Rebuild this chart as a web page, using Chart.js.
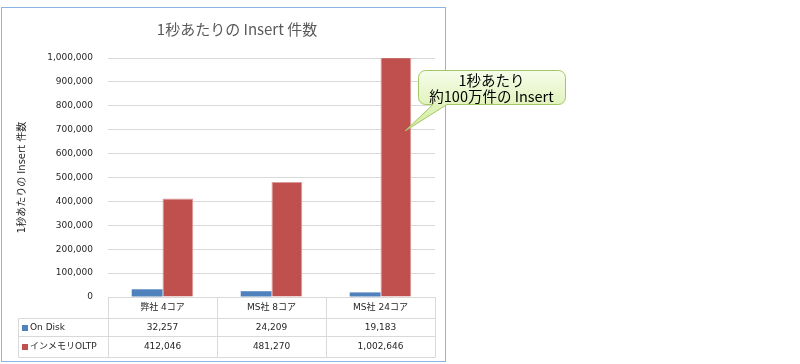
<!DOCTYPE html>
<html lang="ja">
<head>
  <meta charset="UTF-8">
  <title>1秒あたりの Insert 件数</title>
  <script src="https://cdn.jsdelivr.net/npm/chart.js"></script>
  <style>
    html, body { margin: 0; padding: 0; background: #fff; overflow: hidden; }
    #wrap { width: 800px; height: 364px; }
  </style>
</head>
<body>
  <div id="wrap"><canvas id="c" width="800" height="364"></canvas></div>

  <script>
    // data
    const categories = ['弊社 4コア', 'MS社 8コア', 'MS社 24コア'];
    const seriesNames = ['On Disk', 'インメモリOLTP'];
    const onDisk = [32257, 24209, 19183];
    const inMemory = [412046, 481270, 1002646];
    const yTicks = [0, 100000, 200000, 300000, 400000, 500000, 600000, 700000, 800000, 900000, 1000000];
    const chartTitle = '1秒あたりの Insert 件数';
    const axisTitle = '1秒あたりの Insert 件数';
    const calloutLines = ['1秒あたり', '約100万件の Insert'];

    const fmt = v => v.toLocaleString('en-US');
    const smallFont = '"DejaVu Sans", "Noto Sans CJK JP", sans-serif';
    const jpFont = '"Noto Sans CJK JP", sans-serif';

    // frame + chart title
    const framePlugin = {
      id: 'frame',
      beforeDraw(chart) {
        const ctx = chart.ctx;
        ctx.save();
        ctx.fillStyle = '#fff';
        ctx.fillRect(0, 0, chart.width, chart.height);
        ctx.restore();
      },
      afterDraw(chart) {
        const ctx = chart.ctx;
        ctx.save();
        ctx.strokeStyle = '#8db3e2';
        ctx.lineWidth = 1;
        ctx.strokeRect(1.5, 7.5, 444, 354);
        ctx.fillStyle = '#595959';
        ctx.font = '15px ' + jpFont;
        ctx.textAlign = 'center';
        ctx.textBaseline = 'middle';
        ctx.fillText(chartTitle, 237, 29);
        ctx.restore();
      }
    };

    // data table under the plot
    const tablePlugin = {
      id: 'dataTable',
      afterDraw(chart) {
        const { ctx, chartArea } = chart;
        const x = chart.scales.x;
        const colW = x.getPixelForValue(1) - x.getPixelForValue(0);
        const left = Math.round(chartArea.left) + 0.5;
        const right = Math.round(chartArea.right) + 0.5;
        const top = Math.round(chartArea.bottom) + 0.5;
        const rows = [top, top + 21, top + 39, top + 60];
        const keyLeft = 18.5;

        ctx.save();
        ctx.strokeStyle = '#d9d9d9';
        ctx.lineWidth = 1;
        ctx.beginPath();
        ctx.moveTo(left, rows[0]); ctx.lineTo(right, rows[0]);
        for (let r = 1; r < rows.length; r++) {
          ctx.moveTo(keyLeft, rows[r]); ctx.lineTo(right, rows[r]);
        }
        ctx.moveTo(keyLeft, rows[1]); ctx.lineTo(keyLeft, rows[3]);
        ctx.moveTo(left, rows[0]); ctx.lineTo(left, rows[3]);
        for (let i = 0; i < categories.length; i++) {
          const cx = Math.round(x.getPixelForValue(i) + colW / 2) + 0.5;
          ctx.moveTo(cx, rows[0]); ctx.lineTo(cx, rows[3]);
        }
        ctx.stroke();

        ctx.fillStyle = '#262626';
        ctx.font = '9px ' + smallFont;
        ctx.textBaseline = 'middle';
        ctx.textAlign = 'center';
        categories.forEach((c, i) => {
          ctx.fillText(c, x.getPixelForValue(i), (rows[0] + rows[1]) / 2);
        });
        chart.data.datasets.forEach((ds, r) => {
          const cy = (rows[r + 1] + rows[r + 2]) / 2;
          ds.data.forEach((v, i) => {
            ctx.textAlign = 'center';
            ctx.fillStyle = '#262626';
            ctx.fillText(fmt(v), x.getPixelForValue(i), cy);
          });
          ctx.fillStyle = ds.backgroundColor;
          ctx.fillRect(22, Math.round(cy) - 3, 6, 6);
          ctx.fillStyle = '#262626';
          ctx.textAlign = 'left';
          ctx.fillText(ds.label, 30, cy);
        });
        ctx.restore();
      }
    };

    // speech bubble pointing at the third red bar
    const calloutPlugin = {
      id: 'callout',
      afterDraw(chart) {
        const ctx = chart.ctx;
        const l = 418.5, t = 70.5, r = 565.5, b = 104.5, rad = 7;
        ctx.save();
        ctx.beginPath();
        ctx.moveTo(l + rad, t);
        ctx.lineTo(r - rad, t);
        ctx.arcTo(r, t, r, t + rad, rad);
        ctx.lineTo(r, b - rad);
        ctx.arcTo(r, b, r - rad, b, rad);
        ctx.lineTo(447, b);
        ctx.lineTo(405, 131);
        ctx.lineTo(433, b);
        ctx.lineTo(l + rad, b);
        ctx.arcTo(l, b, l, b - rad, rad);
        ctx.lineTo(l, t + rad);
        ctx.arcTo(l, t, l + rad, t, rad);
        ctx.closePath();
        const g = ctx.createLinearGradient(0, t, 0, 131);
        g.addColorStop(0, '#f6fdea');
        g.addColorStop(1, '#d2eb9b');
        ctx.fillStyle = g;
        ctx.fill();
        ctx.strokeStyle = '#a3c766';
        ctx.lineWidth = 1;
        ctx.stroke();

        ctx.fillStyle = '#000';
        ctx.font = '14.5px ' + jpFont;
        ctx.textAlign = 'center';
        ctx.textBaseline = 'middle';
        ctx.fillText(calloutLines[0], 491.5, 80);
        ctx.fillText(calloutLines[1], 491.5, 96);
        ctx.restore();
      }
    };

    new Chart(document.getElementById('c'), {
      type: 'bar',
      data: {
        labels: categories,
        datasets: [
          {
            label: seriesNames[0],
            data: onDisk,
            backgroundColor: '#4f81bd',
            barPercentage: 1,
            categoryPercentage: 0.565,
            clip: 0
          },
          {
            label: seriesNames[1],
            data: inMemory,
            backgroundColor: '#c0504d',
            borderColor: '#dc9c9a',
            borderWidth: 1,
            barPercentage: 1,
            categoryPercentage: 0.565,
            clip: 0
          }
        ]
      },
      options: {
        responsive: false,
        animation: false,
        layout: { padding: { left: 0, right: 365, top: 58, bottom: 67 } },
        plugins: {
          legend: { display: false },
          tooltip: { enabled: false },
          title: { display: false }
        },
        scales: {
          x: { display: false },
          y: {
            min: 0,
            max: 1000000,
            afterBuildTicks: s => { s.ticks = yTicks.map(v => ({ value: v })); },
            afterFit: s => { s.width = 108; },
            ticks: {
              padding: 15,
              color: '#262626',
              font: { family: smallFont, size: 9 },
              callback: v => fmt(v)
            },
            grid: { color: '#d9d9d9', lineWidth: 1, drawTicks: false },
            border: { display: false },
            title: {
              display: true,
              text: axisTitle,
              color: '#262626',
              font: { family: smallFont, size: 10 },
              padding: { top: 16, bottom: 0 }
            }
          }
        }
      },
      plugins: [framePlugin, tablePlugin, calloutPlugin]
    });
  </script>
</body>
</html>
